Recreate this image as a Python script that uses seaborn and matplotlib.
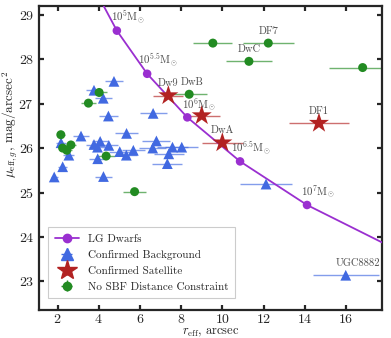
import numpy as np
import pandas as pd
import seaborn as sns
import matplotlib
matplotlib.use("Agg")
import matplotlib.pyplot as plt

# ---------------- data ----------------
lg_x = [4.88, 6.35, 8.30, 10.86, 14.11]
lg_y = [28.64, 27.67, 26.69, 25.70, 24.72]
lg_labels = [r"$10^{5}\mathrm{M}_{\odot}$", r"$10^{5.5}\mathrm{M}_{\odot}$",
             r"$10^{6}\mathrm{M}_{\odot}$", r"$10^{6.5}\mathrm{M}_{\odot}$",
             r"$10^{7}\mathrm{M}_{\odot}$"]
lg_line_x = [3.75, 4.88, 6.35, 8.30, 10.86, 14.11, 18.35]
lg_line_y = [29.62, 28.64, 27.67, 26.69, 25.70, 24.72, 23.74]

bg_x = [4.74, 3.77, 4.22, 4.47, 6.64, 2.17, 3.14, 5.35, 3.77, 4.07, 3.94, 4.49,
        2.55, 3.95, 5.02, 5.34, 5.68, 6.80, 6.62, 7.58, 8.03, 7.40, 7.33, 2.25,
        1.84, 4.23, 12.12, 15.99]
bg_y = [27.50, 27.30, 27.12, 26.72, 26.78, 26.12, 26.27, 26.33, 26.08, 26.15,
        26.02, 26.06, 25.84, 25.76, 25.92, 25.84, 25.95, 26.16, 26.00, 26.02,
        26.02, 25.87, 25.65, 25.58, 25.35, 25.36, 25.19, 23.14]
bg_xerr = [0.45, 0.38, 0.42, 0.45, 0.65, 0.22, 0.37, 0.55, 0.38, 0.40, 0.40,
           0.45, 0.26, 0.40, 0.50, 0.53, 0.57, 0.68, 0.66, 0.76, 0.80, 0.74,
           0.73, 0.22, 0.18, 0.42, 1.24, 1.60]

sat_x = [7.38, 9.00, 10.00, 14.69]
sat_y = [27.18, 26.73, 26.12, 26.56]
sat_xerr = [0.73, 0.90, 0.98, 1.45]
sat_names = ["Dw9", "", "DwA", "DF1"]

ns_x = [9.54, 12.23, 11.29, 16.81, 8.39, 4.02, 3.50, 2.16, 2.25, 2.45, 2.65,
        4.36, 5.74]
ns_y = [28.36, 28.36, 27.95, 27.81, 27.21, 27.25, 27.01, 26.30, 26.00, 25.95,
        26.07, 25.82, 25.02]
ns_xerr = [0.95, 1.25, 1.13, 1.65, 0.86, 0.38, 0.35, 0.20, 0.22, 0.24, 0.26,
           0.42, 0.56]
ns_names = ["", "DF7", "DwC", "", "DwB", "", "", "", "", "", "", "", ""]

bg_names = [""] * 27 + ["UGC8882"]

# ---------------- style ----------------
sns.set_theme(style="ticks")
plt.rcParams.update({
    "font.family": "serif",
    "font.serif": ["cmr10", "DejaVu Serif"],
    "mathtext.fontset": "cm",
    "axes.unicode_minus": False,
    "axes.formatter.use_mathtext": True,
    "axes.linewidth": 1.6,
    "xtick.direction": "in",
    "ytick.direction": "in",
    "xtick.top": True,
    "ytick.right": True,
    "xtick.major.width": 1.6,
    "ytick.major.width": 1.6,
    "xtick.major.size": 3.5,
    "ytick.major.size": 3.5,
    "xtick.major.pad": 2.5,
    "xtick.labelsize": 10,
    "ytick.labelsize": 10,
})

purple = "#9a2fd0"
blue = "#4169e1"
red = "#b22222"
green = "#228b22"

fig = plt.figure(figsize=(3.91, 3.38), dpi=100)
ax = fig.add_axes([0.0997, 0.083, 0.8773, 0.9])

# LG dwarfs line + markers
sns.lineplot(x=lg_line_x, y=lg_line_y, ax=ax, color=purple, lw=1.3, sort=False,
             estimator=None, zorder=3)
sns.scatterplot(x=lg_x, y=lg_y, ax=ax, color=purple, s=38, edgecolor="none",
                zorder=4)

# background
ax.errorbar(bg_x, bg_y, xerr=bg_xerr, yerr=0.05, fmt="none", ecolor=blue,
            alpha=0.65, lw=1.0, zorder=2)
sns.scatterplot(x=bg_x, y=bg_y, ax=ax, marker="^", color=blue, s=60,
                edgecolor="none", zorder=5)

# no SBF
ax.errorbar(ns_x, ns_y, xerr=ns_xerr, yerr=0.06, fmt="none", ecolor=green,
            alpha=0.65, lw=1.0, zorder=2)
sns.scatterplot(x=ns_x, y=ns_y, ax=ax, marker="o", color=green, s=42,
                edgecolor="none", zorder=5)

# satellites
ax.errorbar(sat_x, sat_y, xerr=sat_xerr, fmt="none", ecolor=red,
            alpha=0.65, lw=1.0, zorder=2)
sns.scatterplot(x=sat_x, y=sat_y, ax=ax, marker="*", color=red, s=230,
                edgecolor="none", zorder=6)

# annotations
for x, y, t in zip(lg_x, lg_y, lg_labels):
    ax.annotate(t, (x, y), xytext=(11, 13), textcoords="offset pixels",
                ha="center", va="center", fontsize=7.8, color="0.3", zorder=7)
for xs, ys, names, dx in [(sat_x, sat_y, sat_names, 0), (ns_x, ns_y, ns_names, 0),
                          (bg_x, bg_y, bg_names, 12)]:
    for x, y, t in zip(xs, ys, names):
        if t:
            ddx = 3 if t == "DwB" else dx
            ax.annotate(t, (x, y), xytext=(ddx, 12), textcoords="offset pixels",
                        ha="center", va="center", fontsize=7.5, color="0.3",
                        zorder=7)

ax.set_xlim(1.1, 17.75)
ax.set_ylim(22.36, 29.2)
ax.set_xticks([2, 4, 6, 8, 10, 12, 14, 16])
ax.set_yticks([23, 24, 25, 26, 27, 28, 29])
ax.set_xlabel(r"$r_{\mathrm{eff}}$, arcsec", fontsize=9, va="center")
ax.set_ylabel(r"$\mu_{\mathrm{eff},g}$, $\mathrm{mag/arcsec}^2$", fontsize=9.5,
              va="center")
ax.xaxis.set_label_coords(0.5, -0.074)
ax.yaxis.set_label_coords(-0.085, 0.61)

# legend proxies
h_lg, = ax.plot([], [], "-o", color=purple, ms=6, lw=1.3)
h_bg = ax.errorbar([np.nan], [np.nan], xerr=[0.3], yerr=[0.3], fmt="^",
                   color=blue, ms=8, lw=1.0)
h_sat = ax.errorbar([np.nan], [np.nan], xerr=[0.3], yerr=[0.3], fmt="*",
                    color=red, ms=15, lw=1.0)
h_ns = ax.errorbar([np.nan], [np.nan], xerr=[0.3], yerr=[0.3], fmt="o",
                   color=green, ms=6, lw=1.0)
leg = ax.legend([h_lg, h_bg, h_sat, h_ns],
                ["LG Dwarfs", "Confirmed Background", "Confirmed Satellite",
                 "No SBF Distance Constraint"],
                loc="lower left", bbox_to_anchor=(0.01, 0.02), fontsize=8,
                fancybox=False, edgecolor="0.8", framealpha=1,
                handlelength=2.2, borderpad=0.6, labelspacing=0.55)
leg.get_frame().set_linewidth(0.8)

fig.savefig("out.png", dpi=100)
